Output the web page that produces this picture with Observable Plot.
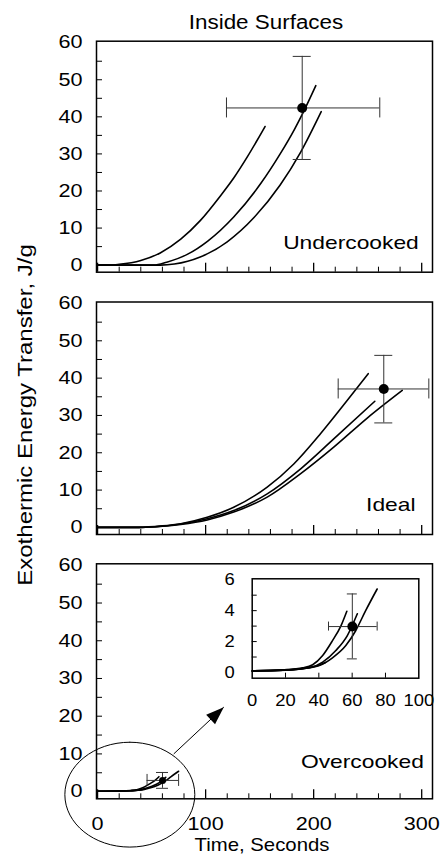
<!DOCTYPE html>
<html>
<head>
<meta charset="utf-8">
<script src="https://cdn.jsdelivr.net/npm/d3@7"></script>
<script src="https://cdn.jsdelivr.net/npm/@observablehq/plot@0.6"></script>
<style>
html, body { margin: 0; padding: 0; background: #fff; }
#wrap { position: relative; width: 440px; height: 858px; overflow: hidden; background: #fff;
  font-family: "Liberation Sans", Arial, Helvetica, sans-serif; color: #000; }
#wrap svg { overflow: visible; }
.txt { position: absolute; white-space: nowrap; line-height: 20px; }
</style>
</head>
<body>
<div id="wrap"></div>
<script>
// ---------------- data ----------------
const titleText = "Inside Surfaces";
const yAxisTitle = "Exothermic Energy Transfer, J/g";
const xAxisTitle = "Time, Seconds";
const panelNames = ["Undercooked", "Ideal", "Overcooked"];

const xLabelTicks = [0, 100, 200, 300];
const xMinorTicks = [20, 40, 60, 80, 120, 140, 160, 180, 220, 240, 260, 280];
const yLabelTicks = [0, 10, 20, 30, 40, 50, 60];
const yMinorTicks = [5, 10, 15, 20, 25, 30, 35, 40, 45, 50, 55];
const insetXTicks = [0, 20, 40, 60, 80, 100];
const insetXMinor = [20, 40, 60, 80];
const insetYTicks = [0, 2, 4, 6];
const insetYMinor = [1, 2, 3, 4, 5];

// Undercooked
const underA_x = [0, 12, 20, 40, 58, 77, 95, 114, 126, 139, 155];
const underA_y = [0, 0, 0.2, 1.25, 3.3, 7.0, 12.0, 18.8, 23.5, 29.4, 37.4];
const underB_x = [0, 52, 64, 83, 102, 126, 151, 169, 182, 190, 202];
const underB_y = [0, 0, 0.8, 2.9, 6.5, 13.0, 22.0, 30.0, 36.5, 41.0, 48.4];
const underC_x = [0, 58, 71, 95, 120, 145, 169, 188, 207];
const underC_y = [0, 0, 0.3, 2.2, 6.3, 12.9, 21.6, 30.5, 41.4];
const underPoint = {x: 189.4, y: 42.4, xLow: 119.3, xHigh: 261.2, yLow: 28.5, yHigh: 56.3};

// Ideal
const idealA_x = [0, 38, 60, 77, 101.5, 126, 157, 181.6, 206.3, 231, 250.5];
const idealA_y = [0, 0, 0.4, 1.0, 2.7, 5.4, 10.8, 17.0, 25.1, 34.0, 41.2];
const idealB_x = [0, 38, 60, 77, 101.5, 126, 157, 188, 218.6, 256.6];
const idealB_y = [0, 0, 0.3, 0.9, 2.3, 4.5, 9.0, 15.7, 23.7, 33.8];
const idealC_x = [0, 38, 60, 77, 101.5, 126, 157, 188, 218.6, 249.6, 282];
const idealC_y = [0, 0, 0.3, 0.8, 2.0, 4.1, 8.1, 14.4, 21.5, 29.3, 36.7];
const idealPoint = {x: 264.9, y: 37.1, xLow: 222.7, xHigh: 306.6, yLow: 28.0, yHigh: 46.1};

// Overcooked (shared by main panel and inset)
const overA_x = [0, 18.5, 30.4, 36.3, 42.3, 48.2, 53.2, 56.8];
const overA_y = [0.1, 0.17, 0.3, 0.5, 1.1, 2.06, 3.0, 3.96];
const overB_x = [0, 18.5, 30.4, 34.3, 42.3, 50.2, 57.1, 63.1];
const overB_y = [0.1, 0.15, 0.25, 0.3, 0.67, 1.42, 2.39, 3.8];
const overC_x = [0, 18.5, 30.4, 40.3, 48.2, 56.2, 62.1, 68.1, 75];
const overC_y = [0.1, 0.15, 0.25, 0.45, 0.95, 1.74, 2.7, 4.0, 5.4];
const overD_x = [0, 20, 30, 38, 44];
const overD_y = [0.1, 0.15, 0.25, 0.4, 0.65];
const overPoint = {x: 60.1, y: 2.97, xLow: 45.8, xHigh: 75, yLow: 0.88, yHigh: 5.08};

// annotation (zoom ellipse and arrow), in data units of the Overcooked panel
const zoomEllipse_x = [-30.3, 29.85, 90.0, 29.85];
const zoomEllipse_y = [-0.8, 13.1, -0.8, -14.7];
const zoomArrow = {x1: 70.5, y1: 10.0, x2: 116.8, y2: 22.4};

// ---------------- build ----------------
const FONT = '"Liberation Sans", Arial, Helvetica, sans-serif';
const xDomain = [-1, 310];
const yDomain = [-1.9, 60.4];
const labelPos = [{x: 297.3, y: 6.1}, {x: 294.3, y: 5.9}, {x: 302, y: 7.8}];

function rows(name, xs, ys) { return xs.map((x, i) => ({series: name, x, y: ys[i]})); }
const underRows = [...rows("A", underA_x, underA_y), ...rows("B", underB_x, underB_y), ...rows("C", underC_x, underC_y)];
const idealRows = [...rows("A", idealA_x, idealA_y), ...rows("B", idealB_x, idealB_y), ...rows("C", idealC_x, idealC_y)];
const overRows = [...rows("A", overA_x, overA_y), ...rows("B", overB_x, overB_y), ...rows("C", overC_x, overC_y), ...rows("D", overD_x, overD_y)];
const ellipseRows = zoomEllipse_x.map((x, i) => ({x, y: zoomEllipse_y[i]}));

function errorMarks(pt, capV, capH, r) {
  const s = {stroke: "#333", strokeWidth: 1};
  return [
    Plot.ruleX([pt], {x: "x", y1: "yLow", y2: "yHigh", ...s}),
    Plot.ruleY([pt], {y: "y", x1: "xLow", x2: "xHigh", ...s}),
    Plot.ruleY([pt], {y: "yLow", x1: "x", x2: "x", insetLeft: -capV, insetRight: -capV, ...s}),
    Plot.ruleY([pt], {y: "yHigh", x1: "x", x2: "x", insetLeft: -capV, insetRight: -capV, ...s}),
    Plot.ruleX([pt], {x: "xLow", y1: "y", y2: "y", insetTop: -capH, insetBottom: -capH, ...s}),
    Plot.ruleX([pt], {x: "xHigh", y1: "y", y2: "y", insetTop: -capH, insetBottom: -capH, ...s}),
    Plot.dot([pt], {x: "x", y: "y", r, fill: "black", stroke: "none"})
  ];
}

const ARROW_ANGLE = 47 * Math.PI / 180;
const arrowHead = {
  draw(ctx) {
    const L = 18, W = 6.5, c = Math.cos(ARROW_ANGLE), s = Math.sin(ARROW_ANGLE);
    const p = [[0, 0], [-W, L], [W, L]].map(([x, y]) => [x * c - y * s, x * s + y * c]);
    ctx.moveTo(p[0][0], p[0][1]); ctx.lineTo(p[1][0], p[1][1]); ctx.lineTo(p[2][0], p[2][1]); ctx.closePath();
  }
};

function mainPanel({height, marginTop, marginBottom, lines, point, capV, capH, r, idx, showX, extra = []}) {
  return Plot.plot({
    width: 440, height, marginLeft: 96, marginRight: 8, marginTop, marginBottom,
    style: {background: "transparent", fontFamily: FONT, fontSize: "18px", color: "black", overflow: "visible"},
    x: {type: "linear", domain: xDomain, axis: showX ? undefined : null, label: null},
    y: {type: "linear", domain: yDomain, label: null},
    marks: [
      Plot.ruleY(yMinorTicks, {y: d => d, x1: xDomain[0], x2: xDomain[0], insetRight: -6, stroke: "black"}),
      Plot.ruleX(xMinorTicks, {x: d => d, y1: yDomain[0], y2: yDomain[0], insetTop: -5, stroke: "black"}),
      Plot.ruleX(xLabelTicks, {x: d => d, y1: yDomain[0], y2: yDomain[0], insetTop: -9, stroke: "black", strokeWidth: 1.3}),
      Plot.frame({stroke: "black", strokeWidth: 1.5}),
      Plot.axisY(yLabelTicks, {tickSize: 0, tickPadding: 14, label: null}),
      ...(showX ? [Plot.axisX(xLabelTicks, {tickSize: 0, tickPadding: 18, label: null})] : []),
      Plot.line(lines, {x: "x", y: "y", z: "series", curve: "monotone-x", stroke: "black", strokeWidth: 1.6}),
      ...errorMarks(point, capV, capH, r),
      Plot.text([labelPos[idx]], {x: "x", y: "y", text: () => panelNames[idx], textAnchor: "end", fontSize: 19}),
      ...extra
    ]
  });
}

const wrap = document.getElementById("wrap");
function place(el, left, top) {
  el.style.position = "absolute"; el.style.left = left + "px"; el.style.top = top + "px";
  wrap.appendChild(el); return el;
}

const p1 = place(mainPanel({height: 280, marginTop: 40.7, marginBottom: 8.3, lines: underRows, point: underPoint, capV: 9, capH: 10, r: 5, idx: 0, showX: false}), 0, 0);
const p2 = place(mainPanel({height: 260, marginTop: 21.5, marginBottom: 6, lines: idealRows, point: idealPoint, capV: 9, capH: 10, r: 5, idx: 1, showX: false}), 0, 280);
const p3 = place(mainPanel({height: 318, marginTop: 23.3, marginBottom: 59.7, lines: overRows, point: overPoint, capV: 6, capH: 6, r: 3.5, idx: 2, showX: true,
  extra: [
    Plot.line(ellipseRows, {x: "x", y: "y", curve: "cardinal-closed", tension: -0.657, stroke: "black", strokeWidth: 1, fill: "none"}),
    Plot.link([zoomArrow], {x1: "x1", y1: "y1", x2: "x2", y2: "y2", stroke: "black", strokeWidth: 1}),
    Plot.dot([zoomArrow], {x: "x2", y: "y2", symbol: arrowHead, fill: "black", stroke: "none", r: 5})
  ]}), 0, 540);

const insetYDom = [-0.37, 6.06];
const inset = place(Plot.plot({
  width: 240, height: 160, marginLeft: 51.7, marginRight: 21.7, marginTop: 18.3, marginBottom: 42.3,
  style: {background: "transparent", fontFamily: FONT, fontSize: "16px", color: "black", overflow: "visible"},
  x: {type: "linear", domain: [0, 100], label: null},
  y: {type: "linear", domain: insetYDom, label: null},
  marks: [
    Plot.ruleY(insetYMinor, {y: d => d, x1: 0, x2: 0, insetRight: -5, stroke: "black"}),
    Plot.ruleX(insetXMinor, {x: d => d, y1: insetYDom[0], y2: insetYDom[0], insetTop: -5, stroke: "black"}),
    Plot.frame({stroke: "black", strokeWidth: 1.5}),
    Plot.axisY(insetYTicks, {tickSize: 0, tickPadding: 17.5, label: null}),
    Plot.axisX(insetXTicks, {tickSize: 0, tickPadding: 16.6, label: null}),
    Plot.line(overRows, {x: "x", y: "y", z: "series", curve: "monotone-x", stroke: "black", strokeWidth: 1.6}),
    ...errorMarks(overPoint, 5, 4.5, 5)
  ]
}), 200, 560);

// horizontal stretch of the (wide) lettering in the reference
function stretch(svg, factor) {
  svg.querySelectorAll("text").forEach(t => {
    if (!t.textContent.trim()) return;
    const w = t.getComputedTextLength();
    t.setAttribute("textLength", (w * factor).toFixed(2));
    t.setAttribute("lengthAdjust", "spacingAndGlyphs");
  });
}
[p1, p2, p3].forEach(s => stretch(s, 1.2));
stretch(inset, 1.15);

// HTML titles
function htmlText(text, cx, cy, size, transform) {
  const d = document.createElement("div");
  d.className = "txt"; d.textContent = text;
  d.style.fontSize = size + "px"; d.style.left = cx + "px"; d.style.top = cy + "px";
  d.style.transform = "translate(-50%, -50%) " + transform;
  wrap.appendChild(d); return d;
}
htmlText(titleText, 266, 22, 20, "scaleX(1.12)");
htmlText(yAxisTitle, 25, 415, 20, "rotate(-90deg) scaleX(1.2)");
htmlText(xAxisTitle, 262, 845, 19, "scaleX(1.07)");
</script>
</body>
</html>
